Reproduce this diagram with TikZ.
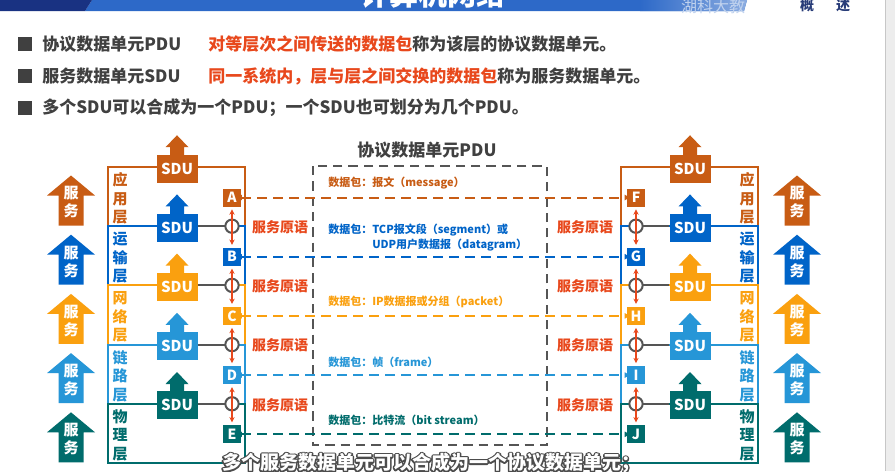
\documentclass[tikz,border=0pt]{standalone}
\usepackage{fontspec}
\setmainfont{Noto Sans CJK SC}
\usetikzlibrary{arrows.meta}

\definecolor{appc}{RGB}{200,92,20}
\definecolor{trac}{RGB}{0,100,200}
\definecolor{netc}{RGB}{250,160,15}
\definecolor{lnkc}{RGB}{38,150,215}
\definecolor{phyc}{RGB}{0,108,108}
\definecolor{primc}{RGB}{232,72,28}
\definecolor{inkc}{RGB}{64,64,64}
\definecolor{framec}{RGB}{85,85,85}
\definecolor{bandc}{RGB}{45,105,200}
\definecolor{banddark}{RGB}{25,50,130}
\definecolor{navyc}{RGB}{40,60,120}

% outlined caption text: stroke-only pass (text render mode 1)
\newcommand\strokedtext[1]{\special{pdf:literal direct 1 Tr 2.2 w 1 j 0.3 0.3 0.3 RG}#1\special{pdf:literal direct 0 Tr}}

\begin{document}
\begin{tikzpicture}[x=0.75pt,y=-0.75pt,
  bullettxt/.style={anchor=west, inner sep=0, text=inkc,
    font=\fontsize{12.75}{15}\selectfont\bfseries},
  layerbox/.style={draw=#1, line width=1.5pt},
  sdubox/.style={fill=#1, text=white, minimum width=30.75pt, minimum height=21pt,
    inner sep=0, font=\fontsize{11.25}{12}\selectfont\bfseries},
  letterbox/.style={fill=#1, text=white, minimum size=13.5pt, inner sep=0,
    font=\fontsize{10.5}{11}\selectfont\bfseries},
  iface/.style={circle, draw=framec, fill=white, line width=1.5pt,
    minimum size=10pt, inner sep=0},
  svctxt/.style={text=white, align=center, inner sep=0,
    font=\fontsize{11.25}{13.5}\selectfont\bfseries},
  laytxt/.style={text=#1, align=center, inner sep=0,
    font=\fontsize{11.25}{13.9}\selectfont\bfseries},
  primtxt/.style={text=primc, inner sep=0,
    font=\fontsize{10.5}{12}\selectfont\bfseries},
  pkttxt/.style={text=#1, anchor=west, inner sep=0,
    font=\fontsize{8.25}{11}\selectfont\bfseries},
  pdulink/.style={draw=#1, line width=1.5pt, dash pattern=on 7.5pt off 4.5pt,
    {Latex[length=4.5pt,width=4.5pt]}-{Latex[length=4.5pt,width=4.5pt]}},
  primarrow/.style={draw=primc, line width=1pt,
    {Stealth[length=4pt,width=4pt]}-{Stealth[length=4pt,width=4pt]}},
  ifaceline/.style={draw=framec, line width=1.5pt},
  subtxt/.style={inner sep=0, font=\fontsize{14.25}{16}\selectfont\bfseries}
]
\useasboundingbox (0,0) rectangle (895,471);
\fill[white] (0,0) rectangle (895,471);

% ---------- header band ----------
\fill[bandc] (92,0) -- (747,0) -- (744,11) -- (85,11) -- cycle;
\shade[left color=bandc, right color=bandc!55!white] (640,0) -- (747,0) -- (744,11) -- (640,11) -- cycle;
\fill[banddark] (0,0) -- (92,0) -- (85,11) -- (0,11) -- cycle;
\begin{scope}
  \clip (0,0) rectangle (895,11);
  \node[text=white, inner sep=0, font=\fontsize{21.75}{22}\selectfont\bfseries] (title) at (433,-6) {计算机网络};
\end{scope}
\begin{scope}
  \clip (0,0) rectangle (895,14);
  \node[text=bandc!30!white, inner sep=0, font=\fontsize{12}{13}\selectfont] (school) at (713,6) {湖科大教};
  \node[text=navyc, inner sep=0, font=\fontsize{10.5}{12}\selectfont\bfseries] (chapA) at (807,5) {概};
  \node[text=navyc, inner sep=0, font=\fontsize{10.5}{12}\selectfont\bfseries] (chapB) at (843,5) {述};
\end{scope}
\fill[black!7] (885,0) rectangle (895,471);
\draw[black!22, line width=0.6pt] (885,0) -- (885,471);

% ---------- bullet lines ----------
\foreach \yy in {44,76,108} \fill[inkc] (18,\yy-7) rectangle (32,\yy+7);
\node[bullettxt] (b1) at (42,44) {协议数据单元PDU};
\node[bullettxt] (b1r) at (208,44) {{\color{primc}对等层次之间传送的数据包}称为该层的协议数据单元。};
\node[bullettxt] (b2) at (42,76) {服务数据单元SDU};
\node[bullettxt] (b2r) at (208,76) {{\color{primc}同一系统内，层与层之间交换的数据包}称为服务数据单元。};
\node[bullettxt] (b3) at (42,108) {多个SDU可以合成为一个PDU；一个SDU也可划分为几个PDU。};

% ---------- layer frames (left and right stacks) ----------
\foreach \i/\c/\t in {1/appc/167,2/trac/226.2,3/netc/285.4,4/lnkc/344.6,5/phyc/403.8}{
  \draw[layerbox=\c] (108,\t) rectangle (245,\t+59.2);
  \draw[layerbox=\c] (621,\t) rectangle (758,\t+59.2);
}

% interface lines between SDU boxes and service access points
\foreach \t in {226.2,285.4,344.6,403.8}{
  \draw[ifaceline] (197,\t) -- (232,\t);
  \draw[ifaceline] (636,\t) -- (669,\t);
}

% ---------- per-layer content ----------
\foreach \i/\c/\t/\la/\lb/\ka/\kb/\kc in {
    1/appc/167/A/F/应/用/层,
    2/trac/226.2/B/G/运/输/层,
    3/netc/285.4/C/H/网/络/层,
    4/lnkc/344.6/D/I/链/路/层,
    5/phyc/403.8/E/J/物/理/层}{
  % SDU boxes with their upward arrows
  \node[sdubox=\c] (sduL\i) at (177,\t+1.5) {SDU};
  \fill[\c] (sduL\i.north) ++(-7,1) -- ++(0,-8) -- ++(-4.5,0) -- ++(11.5,-12)
     -- ++(11.5,12) -- ++(-4.5,0) -- ++(0,8) -- cycle;
  \node[sdubox=\c] (sduR\i) at (690,\t+1.5) {SDU};
  \fill[\c] (sduR\i.north) ++(-7,1) -- ++(0,-8) -- ++(-4.5,0) -- ++(11.5,-12)
     -- ++(11.5,12) -- ++(-4.5,0) -- ++(0,8) -- cycle;
  % layer names
  \node[laytxt=\c] (nameL\i) at (120,\t+31.5) {\ka\\\kb\\\kc};
  \node[laytxt=\c] (nameR\i) at (747,\t+31.5) {\ka\\\kb\\\kc};
  % service arrows: shape first, then the label on top
  \coordinate (svcL\i) at (71,\t+35.5);
  \fill[\c] (svcL\i) ++(-12.5,23) -- ++(0,-30) -- ++(-11.5,0) -- ++(24,-20)
     -- ++(24,20) -- ++(-11.5,0) -- ++(0,30) -- cycle;
  \node[svctxt] (svcLt\i) at (svcL\i) {服\\务};
  \coordinate (svcR\i) at (797,\t+35.5);
  \fill[\c] (svcR\i) ++(-12.5,23) -- ++(0,-30) -- ++(-11.5,0) -- ++(24,-20)
     -- ++(24,20) -- ++(-11.5,0) -- ++(0,30) -- cycle;
  \node[svctxt] (svcRt\i) at (svcR\i) {服\\务};
  % peer entities
  \node[letterbox=\c] (L\i) at (232,\t+30.5) {\la};
  \node[letterbox=\c] (R\i) at (636,\t+30.5) {\lb};
}

% service access points and primitives
\foreach \i/\t in {2/226.2,3/285.4,4/344.6,5/403.8}{
  \node[iface] (sapL\i) at (232,\t) {};
  \node[iface] (sapR\i) at (636,\t) {};
  \node[primtxt] (primL\i) at (280,\t+1) {服务原语};
  \node[primtxt] (primR\i) at (585,\t+1) {服务原语};
}
\foreach \i [evaluate=\i as \j using int(\i-1)] in {2,3,4,5}{
  \draw[primarrow, shorten <=2pt, shorten >=2pt] (L\j.south) -- (L\i.north);
  \draw[primarrow, shorten <=2pt, shorten >=2pt] (R\j.south) -- (R\i.north);
}

% ---------- peer-to-peer PDU exchange ----------
\node[text=inkc, inner sep=0, font=\fontsize{12.75}{15}\selectfont\bfseries] (pdutitle) at (427,150) {协议数据单元PDU};
\draw[framec, line width=2pt, dash pattern=on 7pt off 4.5pt] (313,166) rectangle (547,445);

\draw[pdulink=appc, shorten <=-4pt, shorten >=-3pt] (L1.east) -- (R1.west);
\draw[pdulink=trac, shorten <=-4pt, shorten >=-3pt] (L2.east) -- (R2.west);
\draw[pdulink=netc, shorten <=-4pt, shorten >=-3pt] (L3.east) -- (R3.west);
\draw[pdulink=lnkc, shorten <=-4pt, shorten >=-3pt] (L4.east) -- (R4.west);
\draw[pdulink=phyc, shorten <=-4pt, shorten >=-3pt] (L5.east) -- (R5.west);

\node[pkttxt=appc] (pkt1) at (328,183) {数据包：报文（message）};
\node[pkttxt=trac] (pkt2) at (328,230) {数据包：TCP报文段（segment）或};
\node[pkttxt=trac] (pkt2b) at (372,245) {UDP用户数据报（datagram）};
\node[pkttxt=netc] (pkt3) at (328,302) {数据包：IP数据报或分组（packet）};
\node[pkttxt=lnkc] (pkt4) at (328,362) {数据包：帧（frame）};
\node[pkttxt=phyc] (pkt5) at (328,420) {数据包：比特流（bit stream）};

% ---------- caption line: dark outline under white lettering ----------
\node[subtxt, text=black!70] (captionedge) at (431,463) {\strokedtext{多个服务数据单元可以合成为一个协议数据单元；}};
\node[subtxt, text=white] (caption) at (431,463) {多个服务数据单元可以合成为一个协议数据单元；};
\end{tikzpicture}
\end{document}
